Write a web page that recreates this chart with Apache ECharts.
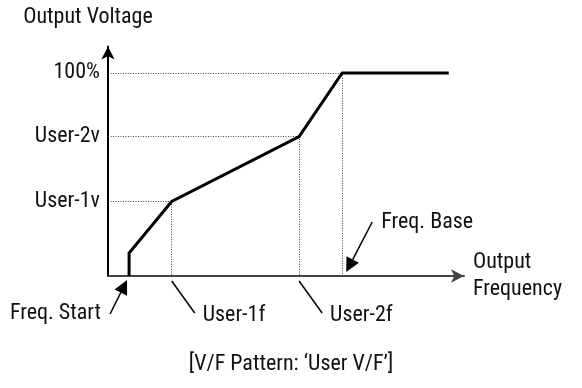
<!DOCTYPE html>
<html>
<head>
<meta charset="utf-8">
<script src="https://cdn.jsdelivr.net/npm/echarts@6/dist/echarts.min.js"></script>
<style>html,body{margin:0;padding:0;background:#fff}#c{width:582px;height:388px}</style>
</head>
<body>
<div id="c"></div>
<script>
// Frequency in % of base frequency, voltage in % of rated output
const freqPoints = [9.0, 9.0, 27.2, 81.6, 100, 145.5];
const voltPoints = [0, 11.3, 36.7, 68.7, 100, 100];
const yTickValues = [36.7, 68.7, 100];
const yTickLabels = ['User-1v', 'User-2v', '100%'];
// guide points: [freq, volt]
const guideFreqs = [27.2, 81.6, 100];
const guideVolts = [36.7, 68.7, 100];
// annotation names on the frequency axis
const annoNames = ['Freq. Start', 'User-1f', 'User-2f', 'Freq. Base'];
const annoFreqs = [9.0, 27.2, 81.6, 100];
const xAxisName = 'Output\nFrequency';
const yAxisName = 'Output Voltage';
const caption = '[V/F Pattern: \u2018User V/F\u2019]';

const FONT = '"Roboto Condensed", "Liberation Sans", Arial, sans-serif';
const FS = 22;
const chart = echarts.init(document.getElementById('c'));

const guideLines = [];
guideFreqs.forEach((f, i) => {
  const v = guideVolts[i];
  guideLines.push([{ coord: [0, v] }, { coord: [f, v] }]);
  guideLines.push([{ coord: [f, v] }, { coord: [f, 0] }]);
});

chart.setOption({
  animation: false,
  backgroundColor: '#fff',
  title: {
    text: caption, left: 'center', top: 348,
    textStyle: { fontFamily: FONT, fontSize: FS, fontWeight: 'normal', color: '#111' }
  },
  grid: { left: 108, right: 118, top: 46.5, bottom: 112, containLabel: false },
  xAxis: {
    type: 'value', min: 0, max: 152,
    name: xAxisName, nameLocation: 'end', nameGap: 9,
    nameTextStyle: { fontFamily: FONT, fontSize: FS, color: '#111', lineHeight: 27, align: 'left', padding: [11, 0, 0, 0] },
    axisLine: { show: true, lineStyle: { color: '#444', width: 2 }, symbol: ['none', 'arrow'], symbolSize: [10, 13] },
    axisTick: { show: false }, axisLabel: { show: false }, splitLine: { show: false }
  },
  yAxis: {
    type: 'value', min: 0, max: 113,
    name: yAxisName, nameLocation: 'end', nameGap: 18,
    nameTextStyle: { fontFamily: FONT, fontSize: FS, color: '#111', padding: [0, 40, 0, 0] },
    axisLine: { show: true, lineStyle: { color: '#000', width: 2 }, symbol: ['none', 'arrow'], symbolSize: [10, 13] },
    axisTick: { show: false },
    axisLabel: {
      show: true, customValues: yTickValues, margin: 8,
      fontFamily: FONT, fontSize: FS, color: '#111',
      formatter: function (val) {
        let best = 0, d = Infinity;
        yTickValues.forEach((t, i) => { if (Math.abs(t - val) < d) { d = Math.abs(t - val); best = i; } });
        return yTickLabels[best];
      }
    },
    splitLine: { show: false }
  },
  series: [{
    type: 'line',
    data: freqPoints.map((f, i) => [f, voltPoints[i]]),
    showSymbol: false, symbol: 'none',
    lineStyle: { color: '#000', width: 3, join: 'miter' },
    z: 5,
    markLine: {
      silent: true, symbol: 'none', label: { show: false },
      lineStyle: { color: '#444', width: 1, type: [1, 1.5] },
      data: guideLines, z: 1
    }
  }]
});

// annotation graphics anchored on the frequency axis through the chart's scales
function arrowHead(tip, tail, len, hw) {
  const dx = tip[0] - tail[0], dy = tip[1] - tail[1];
  const L = Math.sqrt(dx * dx + dy * dy);
  const ux = dx / L, uy = dy / L;
  const bx = tip[0] - ux * len, by = tip[1] - uy * len;
  return [tip, [bx - uy * hw, by + ux * hw], [bx + uy * hw, by - ux * hw]];
}
const gr = [];
const txtStyle = (t, x, y, align) => ({ type: 'text', x: x, y: y, style: { text: t, fontFamily: FONT, fontSize: FS, fill: '#111', align: align, verticalAlign: 'middle' } });
annoFreqs.forEach((f, i) => {
  const p = chart.convertToPixel({ gridIndex: 0 }, [f, 0]);
  const name = annoNames[i];
  if (i === 0) {
    const tail = [p[0] - 19, p[1] + 38], tip = [p[0] - 2, p[1] + 4];
    const head = arrowHead(tip, tail, 14, 7);
    gr.push({ type: 'line', shape: { x1: tail[0], y1: tail[1], x2: (head[1][0] + head[2][0]) / 2, y2: (head[1][1] + head[2][1]) / 2 }, style: { stroke: '#000', lineWidth: 1.5 } });
    gr.push({ type: 'polygon', shape: { points: head }, style: { fill: '#000' } });
    gr.push(txtStyle(name, p[0] - 28, p[1] + 37, 'right'));
  } else if (i === 3) {
    const tail = [p[0] + 30, p[1] - 54], tip = [p[0] + 4, p[1] - 4];
    const head = arrowHead(tip, tail, 14, 7);
    gr.push({ type: 'line', shape: { x1: tail[0], y1: tail[1], x2: (head[1][0] + head[2][0]) / 2, y2: (head[1][1] + head[2][1]) / 2 }, style: { stroke: '#000', lineWidth: 1.5 } });
    gr.push({ type: 'polygon', shape: { points: head }, style: { fill: '#000' } });
    gr.push(txtStyle(name, p[0] + 39, p[1] - 54, 'left'));
  } else {
    gr.push({ type: 'line', shape: { x1: p[0], y1: p[1] + 5, x2: p[0] + 23, y2: p[1] + 37 }, style: { stroke: '#000', lineWidth: 1.5 } });
    gr.push(txtStyle(name, p[0] + 31, p[1] + 39, 'left'));
  }
});
chart.setOption({ graphic: gr });
</script>
</body>
</html>
